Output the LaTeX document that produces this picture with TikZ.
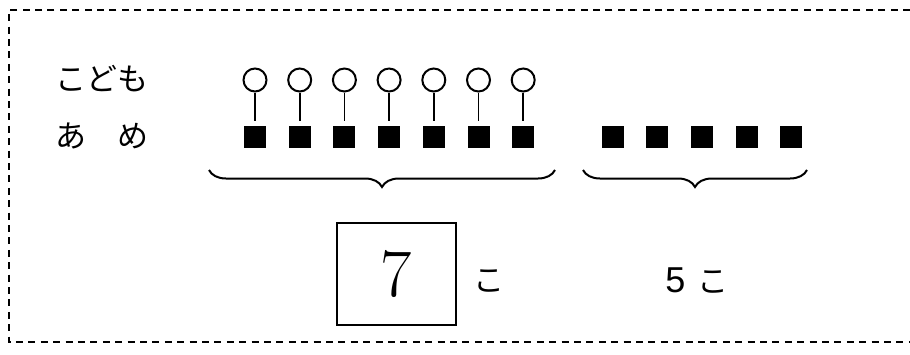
\documentclass[tikz,border=0pt]{standalone}
\usepackage{fontspec}
\newfontfamily\jpfont{Noto Sans CJK JP}
\newfontfamily\numfont{Liberation Sans}
\usetikzlibrary{positioning,decorations.pathreplacing}

\tikzset{x=0.5pt, y=0.5pt}
\tikzset{
  kid/.style={circle, draw, line width=1pt, minimum size=11.5pt, inner sep=0pt},
  candy/.style={rectangle, fill=black, minimum size=11pt, inner sep=0pt},
  frameline/.style={line width=1pt, dash pattern=on 3.5pt off 2.7pt},
  bracepath/.style={line width=1pt, decorate, decoration={brace, mirror, amplitude=8.5pt}},
  jp/.style={font=\fontsize{15.5}{18}\selectfont\jpfont, inner sep=0pt}
}

\begin{document}
\begin{tikzpicture}
\useasboundingbox (0,0) rectangle (910,-354);
\draw[frameline] (910,-10) -- (9,-10) -- (9,-342) -- (910,-342); % open on the right

\node[jp] (kodomo) at (102,-79) {こども};
\node[jp] (ame) at (102,-136) {あ　め};

\foreach \i in {1,...,7}{ % children and their candies
\node[kid] (c\i) at ({255+44.7*(\i-1)},-80) {};
\node[candy] (s\i) at ({255+44.7*(\i-1)},-136.5) {};
\draw[line width=0.8pt, shorten >=2pt] (c\i) -- (s\i);}
\foreach \i in {1,...,5}
\node[candy] (r\i) at ({612.6+44.7*(\i-1)},-136.5) {};

\coordinate (b1l) at (209,-170);
\coordinate (b1r) at (555,-170);
\coordinate (b2l) at (583,-170);
\coordinate (b2r) at (807,-170);
\draw[bracepath] (b1l) -- (b1r);
\draw[bracepath] (b2l) -- (b2r);

\node[draw, line width=0.9pt, minimum width=59.5pt, minimum height=51pt,
  font=\fontsize{34}{36}\selectfont] (ans) at (396.5,-274) {7};
\node[jp] (ko1) at (489,-281) {こ};
\node[jp] (five) at (697,-280) {{\numfont\fontsize{18}{20}\selectfont 5}\hspace{6pt}こ};
\end{tikzpicture}
\end{document}
